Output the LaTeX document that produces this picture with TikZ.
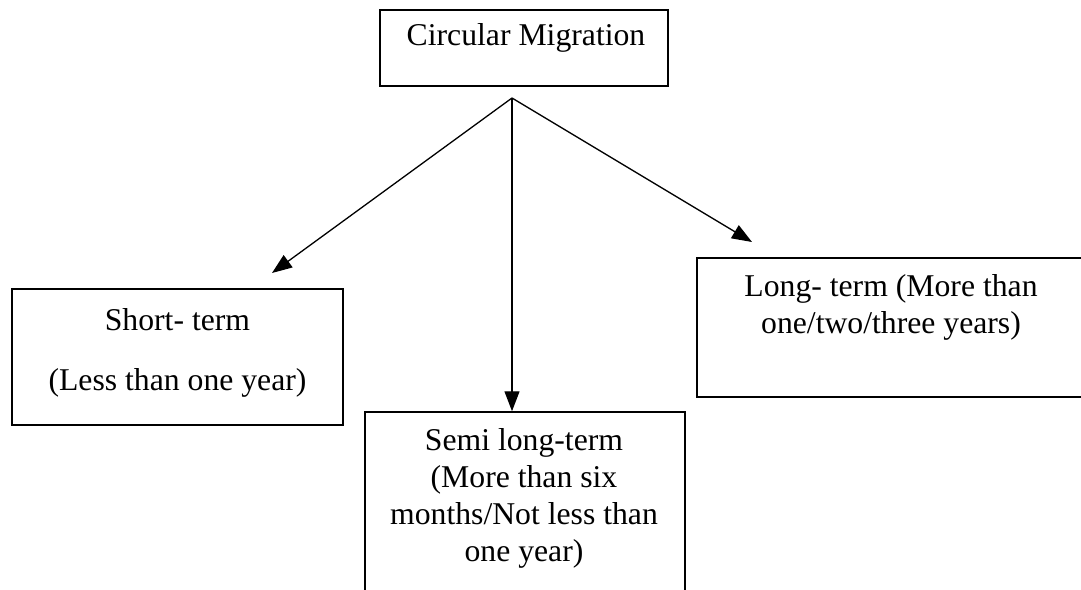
\documentclass[tikz,border=0pt]{standalone}
\usepackage{fontspec}
\setmainfont{Liberation Serif}
\usetikzlibrary{arrows.meta,calc}
\begin{document}
\begin{tikzpicture}[x=1pt,y=-1pt,
  box/.style={draw,line width=1.5pt,rectangle,inner sep=0pt},
  txt/.style={align=center,inner sep=0pt,anchor=base,
    font=\fontsize{31.7}{37}\selectfont},
  link/.style={line width=1.3pt,-{Triangle[length=20pt,width=15pt]}}]
\useasboundingbox (0,0) rectangle (1081,589);
\clip (0,0) rectangle (1081,589);

% frames
\node[box,minimum width=288pt,minimum height=76pt] (top) at (524,48) {};
\node[box,minimum width=331pt,minimum height=136pt] (short) at (177.5,357) {};
\node[box,minimum width=389pt,minimum height=139pt] (long) at (891.5,327.5) {};
\node[box,minimum width=320pt,minimum height=208pt] (semi) at (525,516) {};

% labels (placed by the baseline of their last line)
\node[txt] (toptxt) at (526,45) {Circular Migration};
\node[txt] (shorttxt) at (177.5,390) {Short- term\\[23pt](Less than one year)};
\node[txt] (longtxt) at (891,333) {Long- term (More than\\one/two/three years)};
\node[txt] (semitxt) at (524,561) {Semi long-term\\(More than six\\months/Not less than\\one year)};

% branching arrows
\coordinate (hub) at (512,98);
\coordinate (ltip) at (272,273);
\coordinate (rtip) at (752,242);
\draw[link] (hub) -- (ltip);
\draw[link] (hub) -- (hub |- semi.north);
\draw[link] (hub) -- (rtip);
\end{tikzpicture}
\end{document}
